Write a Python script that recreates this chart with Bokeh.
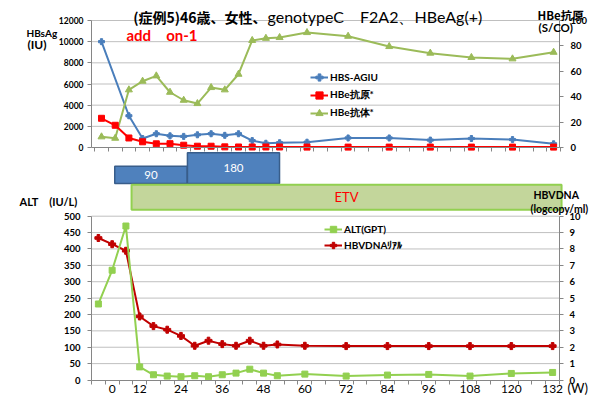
from bokeh.plotting import figure
from bokeh.models import Range1d, LinearAxis, FixedTicker, Label, Legend, LegendItem
from bokeh.embed import file_html
from bokeh.resources import INLINE
from bokeh.core.properties import value

# ---------------- data ----------------
n_slots = 34  # evenly spaced category slots on the time axis
visit_idx = [0, 1, 2, 3, 4, 5, 6, 7, 8, 9, 10, 11, 12, 13, 15, 18, 21, 24, 27, 30, 33]
hbsag_idx = [0, 2, 3, 4, 5, 6, 7, 8, 9, 10, 11, 12, 13, 15, 18, 21, 24, 27, 30, 33]
hbsag = [10000, 3000, 850, 1300, 1100, 1050, 1200, 1300, 1150, 1300, 650, 400, 450,
         500, 900, 900, 700, 850, 750, 350]
hbeag = [23, 17.5, 7.5, 4.5, 2.9, 3.0, 1.8, 1.0, 1.0, 0.5, 0.4, 0.4, 0.4, 0.4,
         0.3, 0.3, 0.3, 0.3, 0.3, 0.3, 0.3]
hbeab = [8.4, 7.3, 45.4, 52.2, 56.4, 43.5, 37.2, 34.6, 47.2, 45.4, 57.7, 84.3, 86.0, 86.6,
         90.5, 87.6, 79.5, 74.3, 70.9, 69.8, 75.0]
alt = [232, 335, 470, 40, 16, 12, 10, 13, 10, 16, 21, 33, 21, 13, 18, 12, 15, 17, 12, 20, 23]
hbvdna = [8.67, 8.29, 7.89, 3.88, 3.29, 3.07, 2.69, 2.09, 2.40, 2.19, 2.09, 2.40, 2.09, 2.17,
          2.09, 2.07, 2.07, 2.07, 2.07, 2.07, 2.07]

week_idx = [1, 3, 6, 9, 12, 15, 18, 21, 24, 27, 30, 33]
week_labels = ["0", "12", "24", "36", "48", "60", "72", "84", "96", "108", "120", "132"]

hbsag_ticks = [0, 2000, 4000, 6000, 8000, 10000, 12000]
hbe_ticks = [0, 20, 40, 60, 80, 100]
alt_ticks = [0, 50, 100, 150, 200, 250, 300, 350, 400, 450, 500]
dna_ticks = [0, 1, 2, 3, 4, 5, 6, 7, 8, 9, 10]

tx_names = ["90", "180", "ETV"]
tx_start = [1.19, 6.47, 2.41]
tx_end = [6.45, 13.16, 33.65]

# ---------------- layout helpers (figure pixels) ----------------
W, H = 595, 398

BOT_L, BOT_R = 91.0, 559.0
slot = (BOT_R - BOT_L) / n_slots
x_main = Range1d(-0.5 - BOT_L / slot, -0.5 + (W - BOT_L) / slot)

TOP_L, tslot = 94.15, 13.7
x_top = Range1d(-0.5 - TOP_L / tslot, -0.5 + (W - TOP_L) / tslot)
top_bounds = (-0.5 - (TOP_L - BOT_L) / tslot, -0.5 + (BOT_R - TOP_L) / tslot)


def y_map(v0, p0, v1, p1):
    k = (v1 - v0) / (p0 - p1)
    return Range1d(v0 - (H - p0) * k, v0 + p0 * k)


ALT0, ALT500 = 379.5, 215.7
HBS0, HBSTOP = 147.0, 20.0

p = figure(width=W, height=H, x_range=x_main, y_range=y_map(0, ALT0, 500, ALT500),
           x_axis_type=None, y_axis_type=None, toolbar_location=None,
           output_backend="svg", outline_line_color=None)
p.min_border_left = p.min_border_right = p.min_border_top = p.min_border_bottom = 0
p.extra_x_ranges = {"topx": x_top, "px": Range1d(0, W)}
p.extra_y_ranges = {"hbs": y_map(0, HBS0, 12000, HBSTOP),
                    "hbe": y_map(0, HBS0, 100, HBSTOP),
                    "dna": y_map(0, ALT0, 10, ALT500),
                    "px": Range1d(H, 0)}

GRID = "#BFBFBF"
AXC = "#868686"
FONT = "Lato"
CJK = "Noto Sans CJK JP"

# gridlines
p.segment(x0=-0.5, x1=n_slots - 0.5, y0=hbsag_ticks[1:], y1=hbsag_ticks[1:],
          y_range_name="hbs", line_color=GRID, line_width=1)
p.segment(x0=-0.5, x1=n_slots - 0.5, y0=alt_ticks[1:], y1=alt_ticks[1:],
          line_color=GRID, line_width=1)


def yaxis(side, rname, loc, ticks, size, standoff):
    ax = LinearAxis(y_range_name=rname, fixed_location=loc, bounds=(ticks[0], ticks[-1]),
                    ticker=FixedTicker(ticks=ticks, minor_ticks=[]),
                    axis_line_color=AXC, major_tick_line_color=AXC,
                    major_tick_out=4, major_tick_in=0, minor_tick_out=0, minor_tick_in=0,
                    major_label_text_font=FONT, major_label_text_font_style="bold",
                    major_label_text_font_size=size, major_label_standoff=standoff,
                    major_label_text_color="#000000")
    p.add_layout(ax, side)


yaxis("left", "hbs", -0.5, hbsag_ticks, "8.5px", 4)
yaxis("right", "hbe", n_slots - 0.5, hbe_ticks, "9.5px", 7)
yaxis("left", "default", -0.5, alt_ticks, "9.5px", 7)
yaxis("right", "dna", n_slots - 0.5, dna_ticks, "9.5px", 6)

bounds_minor = [k - 0.5 for k in range(n_slots + 1)]
xax = LinearAxis(fixed_location=0, bounds=(-0.5, n_slots - 0.5),
                 ticker=FixedTicker(ticks=week_idx, minor_ticks=bounds_minor),
                 major_label_overrides=dict(zip(week_idx, week_labels)),
                 axis_line_color=AXC, minor_tick_line_color=AXC,
                 major_tick_out=0, major_tick_in=0, minor_tick_out=4, minor_tick_in=0,
                 major_label_text_font=FONT, major_label_text_font_size="12px",
                 major_label_standoff=1, major_label_text_color="#000000")
p.add_layout(xax, "below")

xtop = LinearAxis(x_range_name="topx", y_range_name="hbs", fixed_location=0,
                  bounds=top_bounds,
                  ticker=FixedTicker(ticks=[], minor_ticks=bounds_minor),
                  axis_line_color=AXC, minor_tick_line_color=AXC,
                  major_tick_out=0, major_tick_in=0, minor_tick_out=4, minor_tick_in=0,
                  major_label_text_font_size="0px")
p.add_layout(xtop, "below")

# treatment periods
tx_top = [165.7, 152.3, 184.3]
tx_bot = [183.0, 183.0, 209.3]
p.quad(left=tx_start, right=tx_end, top=tx_top, bottom=tx_bot, y_range_name="px",
       fill_color=["#4F81BD", "#4F81BD", "#C3D69B"],
       line_color=["#385D8A", "#385D8A", "#92D050"], line_width=[1.5, 1.5, 2])
mid_x = [(s + e) / 2 for s, e in zip(tx_start, tx_end)]
mid_y = [(a + b) / 2 for a, b in zip(tx_top, tx_bot)]
p.text(x=mid_x[:2], y=mid_y[:2], text=tx_names[:2], y_range_name="px",
       text_align="center", text_baseline="middle", text_color="#FFFFFF",
       text_font=value(FONT), text_font_size="11.5px")
p.text(x=mid_x[2:], y=mid_y[2:], text=tx_names[2:], y_range_name="px",
       text_align="center", text_baseline="middle", text_color="#FF0000",
       text_font=value(FONT), text_font_size="13px")

# top chart series
r_b = p.line(hbsag_idx, hbsag, x_range_name="topx", y_range_name="hbs",
             line_color="#4A7EBB", line_width=2)
s_b = p.scatter(hbsag_idx, hbsag, x_range_name="topx", y_range_name="hbs",
                marker="plus", size=6, fill_color="#4A7EBB", line_color="#4A7EBB")
r_g = p.line(visit_idx, hbeab, x_range_name="topx", y_range_name="hbe",
             line_color="#9BBB59", line_width=2)
s_g = p.scatter(visit_idx, hbeab, x_range_name="topx", y_range_name="hbe",
                marker="triangle", size=7, fill_color="#9BBB59", line_color="#9BBB59")
r_r = p.line(visit_idx, hbeag, x_range_name="topx", y_range_name="hbe",
             line_color="#FF0000", line_width=2)
s_r = p.scatter(visit_idx, hbeag, x_range_name="topx", y_range_name="hbe",
                marker="square", size=6, fill_color="#FF0000", line_color="#FF0000")

# bottom chart series
r_d = p.line(visit_idx, hbvdna, y_range_name="dna", line_color="#C00000", line_width=2)
s_d = p.scatter(visit_idx, hbvdna, y_range_name="dna", marker="plus", size=7,
                fill_color="#C00000", line_color="#C00000")
r_a = p.line(visit_idx, alt, line_color="#92D050", line_width=2)
s_a = p.scatter(visit_idx, alt, marker="square", size=6, fill_color="#92D050",
                line_color="#92D050")

leg_style = dict(padding=0, margin=0, spacing=0, border_line_alpha=0,
                 background_fill_alpha=0, glyph_width=18, label_standoff=2,
                 label_text_font=FONT, label_text_font_style="bold",
                 label_text_font_size="10px", label_text_color="#000000")
leg_top = Legend(items=[LegendItem(label="HBS-AGIU", renderers=[r_b, s_b]),
                        LegendItem(label="HBe抗原*", renderers=[r_r, s_r]),
                        LegendItem(label="HBe抗体*", renderers=[r_g, s_g])],
                 location=(310, H - (113 + 9)), label_height=18, glyph_height=18,
                 **leg_style)
leg_bot = Legend(items=[LegendItem(label="ALT(GPT)", renderers=[r_a, s_a]),
                        LegendItem(label="HBVDNAﾘｱﾙ", renderers=[r_d, s_d])],
                 location=(324, H - (245 + 8)), label_height=16, glyph_height=16,
                 **leg_style)
p.add_layout(leg_top, "center")
p.add_layout(leg_bot, "center")


def label(text, x, y, size, align="left", bold=True, color="#000000", font=FONT):
    p.add_layout(Label(x=x, y=y, text=text, x_range_name="px", y_range_name="px",
                       text_align=align, text_baseline="middle", text_color=color,
                       text_font=font, text_font_size=size,
                       text_font_style="bold" if bold else "normal"))


label("(症例5)46歳、女性、", 266, 16, "14px", align="right", font=CJK)
label("genotypeC　F2A2、HBeAg(+)", 267, 16, "16px", bold=False)
label("add　on-1", 126, 34, "15px", color="#FF0000")
label("HBsAg", 26, 32, "10px")
label("(IU)", 27, 44, "12px")
label("HBe抗原", 537, 14, "11.5px", font=CJK)
label("(S/CO)", 538, 27, "11.5px")
label("ALT　(IU/L)", 19, 201, "11px")
label("HBVDNA", 533, 194, "10.5px")
label("(logcopy/ml)", 530, 208, "10.5px")
label("(W)", 567, 387, "13px", bold=False)

open("out.html", "w").write(file_html(p, INLINE))
